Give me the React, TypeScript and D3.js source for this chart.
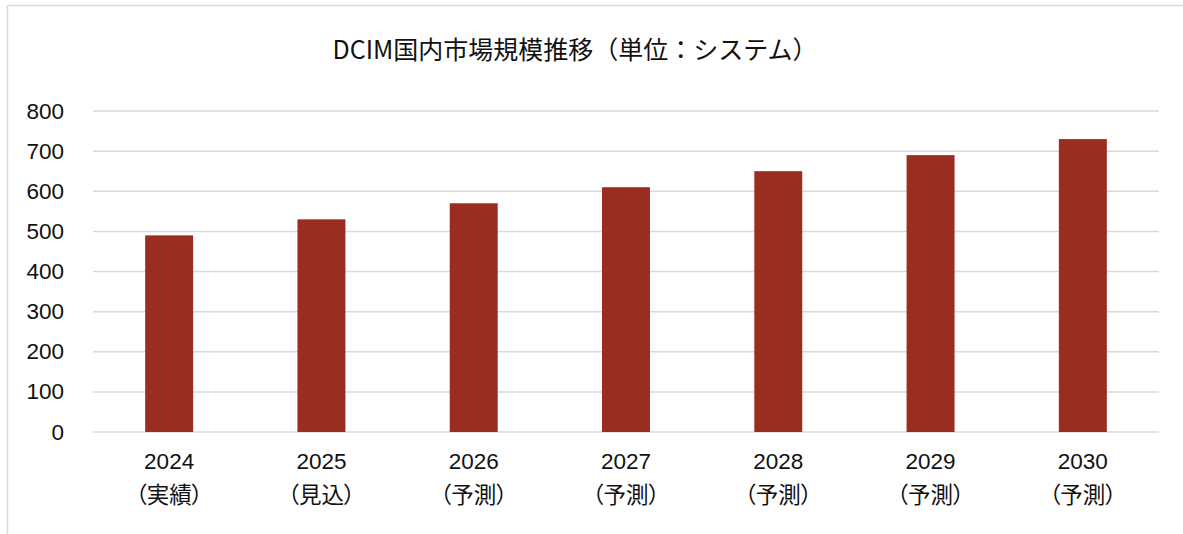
import React from "react";
import * as d3 from "d3";

const years = ["2024", "2025", "2026", "2027", "2028", "2029", "2030"];
const subLabels = ["（実績）", "（見込）", "（予測）", "（予測）", "（予測）", "（予測）", "（予測）"];
const values = [490, 530, 570, 610, 650, 690, 730];
const yTicks = [0, 100, 200, 300, 400, 500, 600, 700, 800];
const title = "DCIM国内市場規模推移（単位：システム）";

const W = 1183;
const H = 534;
const plotLeft = 93;
const plotRight = 1159;
const plotTop = 111;
const plotBottom = 432;

const FONT = '"Liberation Sans", Arial, "Noto Sans CJK JP", sans-serif';

export default function App() {
  const x = d3
    .scaleBand<string>()
    .domain(years)
    .range([plotLeft, plotRight])
    .paddingInner(0.685)
    .paddingOuter(0.3425);
  const y = d3.scaleLinear().domain([0, 800]).range([plotBottom, plotTop]);

  return (
    <svg
      width={W}
      height={H}
      style={{ position: "absolute", left: 0, top: 0, background: "#fff" }}
    >
      <rect x={0} y={0} width={W} height={H} fill="#fff" />
      {/* chart area border (top & left visible) */}
      <line x1={7.5} x2={W} y1={5.5} y2={5.5} stroke="#D9D9D9" strokeWidth={1.5} />
      <line x1={7.5} x2={7.5} y1={5.5} y2={H} stroke="#D9D9D9" strokeWidth={1.5} />

      <text
        x={575}
        y={59}
        textAnchor="middle"
        fontFamily={'"Noto Sans CJK JP", sans-serif'}
        fontSize={25}
        fill="#111"
      >
        {title}
      </text>

      {yTicks.map((t) => (
        <g key={t}>
          <line
            x1={plotLeft}
            x2={plotRight}
            y1={y(t)}
            y2={y(t)}
            stroke="#D9D9D9"
            strokeWidth={1.5}
          />
          <text
            x={64}
            y={y(t)}
            textAnchor="end"
            dominantBaseline="central"
            fontFamily={FONT}
            fontSize={22.5}
            fill="#111"
          >
            {t}
          </text>
        </g>
      ))}

      {years.map((yr, i) => (
        <rect
          key={yr}
          x={x(yr)!}
          y={y(values[i])}
          width={x.bandwidth()}
          height={y(0) - y(values[i])}
          fill="#9A2D20"
        />
      ))}

      {years.map((yr, i) => {
        const cx = x(yr)! + x.bandwidth() / 2;
        return (
          <g key={yr}>
            <text
              x={cx}
              y={469}
              textAnchor="middle"
              fontFamily={FONT}
              fontSize={22.5}
              fill="#111"
            >
              {yr}
            </text>
            <text
              x={cx}
              y={503}
              textAnchor="middle"
              fontFamily={'"Noto Sans CJK JP", sans-serif'}
              fontSize={22.5}
              fill="#111"
              style={{ fontFeatureSettings: '"palt"' }}
            >
              {subLabels[i]}
            </text>
          </g>
        );
      })}
    </svg>
  );
}
